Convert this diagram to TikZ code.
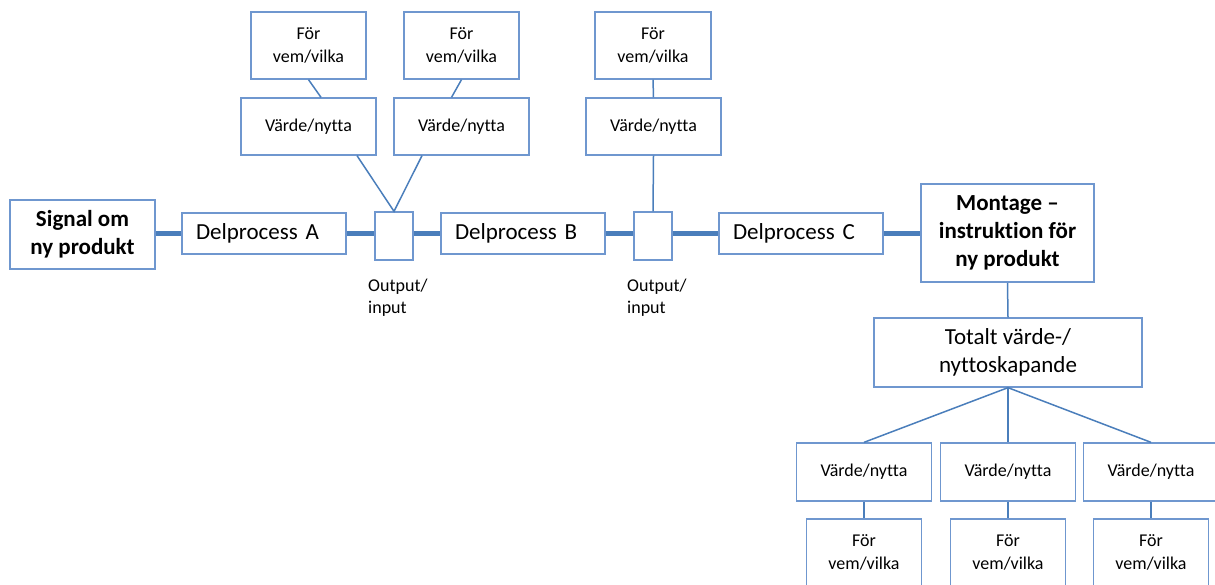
\documentclass[tikz,border=0pt]{standalone}
\usepackage{fontspec}
\setmainfont[Ligatures=NoCommon]{Carlito}
\usetikzlibrary{positioning}
\definecolor{boxblue}{HTML}{6F97CF}
\definecolor{lineblue}{HTML}{4A7EBB}
\tikzset{
  box/.style={draw=boxblue,line width=1.3pt,fill=white,inner sep=0pt,align=center,
    font=\fontsize{18}{22.5}\selectfont},
  procbox/.style={box,minimum width=164pt,minimum height=41pt,text width=136pt,align=left,
    font=\fontsize{23}{28.3}\selectfont},
  endbox/.style={box,line width=2pt,font=\fontsize{23}{28.3}\selectfont\bfseries},
  iobox/.style={box,minimum width=38pt,minimum height=48pt},
  forbox/.style={box,minimum width=115pt,minimum height=67pt},
  valbox/.style={box,minimum width=135pt,minimum height=57pt},
  iolabel/.style={anchor=west,align=left,inner sep=0pt,font=\fontsize{18}{22}\selectfont},
  flow/.style={draw=lineblue,line width=5pt},
  link/.style={draw=lineblue,line width=1.5pt}
}
\begin{document}
\begin{tikzpicture}[x=1pt,y=-1pt]
\clip (0,0) rectangle (1215,585);
% main chain
\node[endbox,minimum width=145pt,minimum height=69pt] (signal) at (82.5,234.5) {Signal om\\ny produkt};
\node[procbox] (delA) at (264,233.5) {Delprocess A};
\node[iobox] (io1) at (394,236) {};
\node[procbox] (delB) at (523,233.5) {Delprocess B};
\node[iobox] (io2) at (653,236) {};
\node[procbox] (delC) at (801,233.5) {Delprocess C};
\node[endbox,minimum width=173pt,minimum height=98pt] (montage) at (1007.5,233) {Montage –\\instruktion för\\ny produkt};
\node[iolabel] (io1lbl) at (368,298) {Output/\\input};
\node[iolabel] (io2lbl) at (627,298) {Output/\\input};
\draw[flow] (delA.west -| signal.east) -- (delA.west);
\draw[flow] (delA.east) -- (delA.east -| io1.west);
\draw[flow] (delB.west -| io1.east) -- (delB.west);
\draw[flow] (delB.east) -- (delB.east -| io2.west);
\draw[flow] (delC.west -| io2.east) -- (delC.west);
\draw[flow] (delC.east) -- (delC.east -| montage.west);
% values above
\node[forbox] (forA1) at (308.5,45.5) {För\\vem/vilka};
\node[valbox] (valA1) at (308.5,126.5) {Värde/nytta};
\node[forbox] (forA2) at (461.5,45.5) {För\\vem/vilka};
\node[valbox] (valA2) at (461.5,126.5) {Värde/nytta};
\node[forbox,minimum width=116pt] (forB) at (653,45.5) {För\\vem/vilka};
\node[valbox] (valB) at (653.5,126.5) {Värde/nytta};
\draw[link] (forA1.south) -- ([xshift=12.5pt]valA1.north);
\draw[link] (forA2.south) -- ([xshift=-10pt]valA2.north);
\draw[link] ([xshift=48.5pt]valA1.south) -- (io1.north) -- ([xshift=-39.5pt]valA2.south);
\draw[link] (forB.south) -- (valB.north);
\draw[link] (valB.south) -- (io2.north);
% total
\node[box,minimum width=268pt,minimum height=69pt,font=\fontsize{23}{28.3}\selectfont] (total) at (1008,352.5) {Totalt värde-/\\nyttoskapande};
\draw[link] (montage.south) -- (total.north);
\foreach \i/\x in {1/864,2/1008,3/1151}{
  \node[valbox,minimum height=58pt] (valT\i) at (\x,472) {Värde/nytta};
  \node[forbox] (forT\i) at (\x,552.5) {För\\vem/vilka};
  \draw[link] (total.south) -- (valT\i.north);
  \draw[link] (valT\i.south) -- (forT\i.north);
}
\end{tikzpicture}
\end{document}
